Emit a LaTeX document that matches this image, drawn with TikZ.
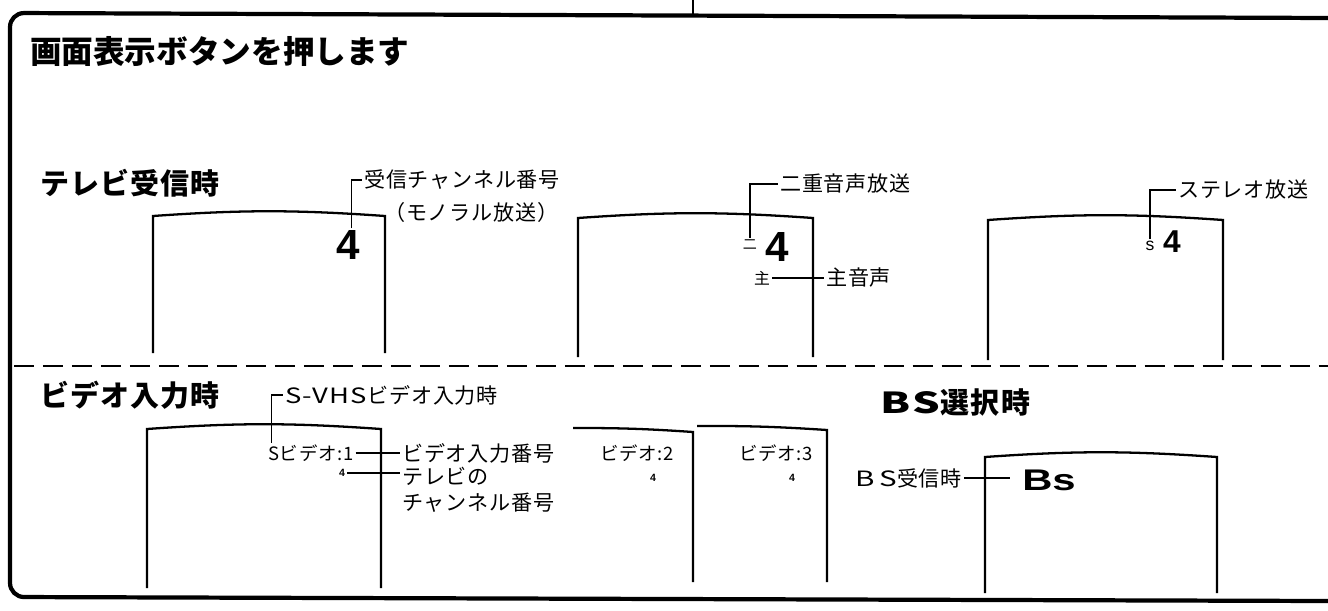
\documentclass[tikz,border=0pt]{standalone}
\usepackage{fontspec}
\newfontfamily\jpfont{Noto Sans CJK JP}
\newfontfamily\jplabel{Noto Sans CJK JP}[LetterSpace=4]
\newfontfamily\jphead{Noto Sans CJK JP}[LetterSpace=4]
\newfontfamily\latfont{Liberation Sans}
\usetikzlibrary{positioning}

\begin{document}
\begin{tikzpicture}[x=0.02cm,y=-0.02cm,inner sep=1pt]

	\tikzstyle{frame}=[line width=2.4pt,rounded corners=8pt]
	\tikzstyle{screen}=[line width=1.3pt]
	\tikzstyle{leader}=[line width=0.8pt]
	\tikzstyle{sep}=[line width=1.3pt,dash pattern=on 11.5pt off 5pt]
	\tikzstyle{maintitle}=[anchor=west,font=\jpfont\bfseries\fontsize{18}{20}\selectfont]
	\tikzstyle{heading}=[anchor=west,font=\jphead\bfseries\fontsize{16.5}{18}\selectfont]
	\tikzstyle{lbl}=[anchor=west,font=\jplabel\fontsize{12}{14}\selectfont]
	\tikzstyle{osd}=[font=\jplabel\fontsize{10.5}{12}\selectfont]
	\tikzstyle{bignum}=[font=\latfont\bfseries\fontsize{24}{26}\selectfont]
	\tikzstyle{tinynum}=[font=\latfont\bfseries\fontsize{6}{7}\selectfont]

	\useasboundingbox (0,0) rectangle (1328,611);

	% outer frame
	\draw[frame] (1328,18) -- (10,13) -- (10,597) -- (1328,601);
	\draw[leader,line width=1pt] (693,0) -- (693,14);
	\draw[sep] (14,366) -- (1328,366);

	\node[maintitle] (title) at (28,52) {画面表示ボタンを押します};
	\node[heading] (tvhead) at (38,183) {テレビ受信時};
	\node[heading] (vidhead) at (38,395) {ビデオ入力時};
	\node[heading] (bshead) at (878,403) {\scalebox{1.5}[1]{B\kern1pt S}選択時};

	% screens
	\foreach \l/\r/\t/\b in {153/385/216/353,578/813/218/357,988/1223/220/360,147/381/429/588,985/1217/457/593}{
		\draw[screen] (\l,\b) -- (\l,\t) to[bend left=4] (\r,\t) -- (\r,\b);}
	\foreach \l/\r/\t in {573/693/428,697/827/426}{
		\draw[screen] (\l,\t) to[bend left=2] (\r,\t+4) -- (\r,582);}

	% tv
	\node[bignum] (num1) at (348,245) {4};
	\node[lbl] (mono) at (362,180) {受信チャンネル番号};
	\node[lbl] (mono2) at (382,212) {（モノラル放送）};
	\draw[leader] ([xshift=2pt]num1.north) |- (mono.west);

	\node[bignum] (num2) at (777,247) {4};
	\node[font=\jpfont\fontsize{8}{9}\selectfont] (dual) at (750,245) {二};
	\node[lbl] (duallbl) at (778,184) {二重音声放送};
	\draw[leader] (dual.north) |- (duallbl.west);
	\node[font=\jpfont\fontsize{9}{10}\selectfont] (main) at (762,278) {主};
	\node[lbl] (mainlbl) at (824,278) {主音声};
	\draw[leader] (main.east) -- (main.east -| mainlbl.west);

	\node[font=\latfont\fontsize{10}{12}\selectfont] (ster) at (1150,246) {s};
	\node[font=\latfont\bfseries\fontsize{18}{20}\selectfont] (num3) at (1172,242) {4};
	\node[lbl] (sterlbl) at (1176,190) {ステレオ放送};
	\draw[leader] (ster.north) |- (sterlbl.west);

	% video
	\node[osd,anchor=west] (vid1) at (266,453) {Sビデオ:1};
	\node[lbl] (svhs) at (283,395) {\scalebox{1.3}[1]{S-VHS}ビデオ入力時};
	\draw[leader] ([xshift=3pt]vid1.north west) |- (svhs.west);
	\node[lbl] (vidno) at (400,453) {ビデオ入力番号};
	\draw[leader] (vid1.east) -- (vid1.east -| vidno.west);
	\node[tinynum] (tv4) at (342,473) {4};
	\node[lbl] (tvch) at (400,476) {テレビの};
	\node[lbl] (tvch2) at (400,503) {チャンネル番号};
	\draw[leader] (tv4.east) -- (tv4.east -| tvch.west);

	\node[osd] (vid2) at (637,453) {ビデオ:2};
	\node[tinynum] (tv4b) at (653,478) {4};
	\node[osd] (vid3) at (776,453) {ビデオ:3};
	\node[tinynum] (tv4c) at (792,478) {4};

	% bs
	\node[font=\latfont\bfseries\fontsize{17}{20}\selectfont] (bs) at (1049,480) {\scalebox{1.4}[1]{Bs}};
	\node[lbl] (bslbl) at (853,478) {\scalebox{1.4}[1]{B\kern2pt S}受信時};
	\draw[leader,shorten >=6pt] (bslbl.east) -- (bslbl.east -| bs.west);
\end{tikzpicture}
\end{document}
